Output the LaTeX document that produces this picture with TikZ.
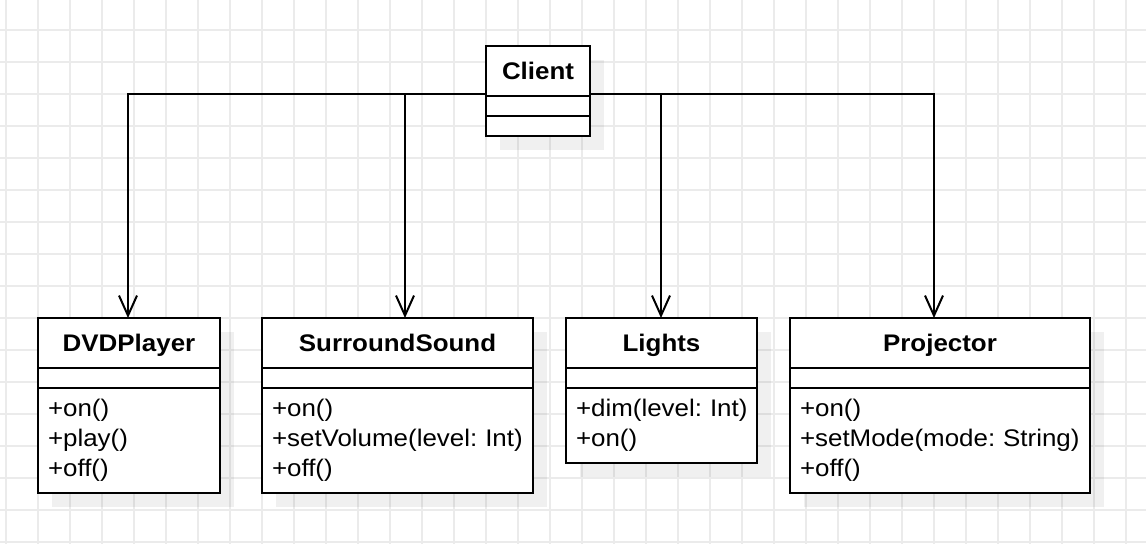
\documentclass[tikz,border=0pt]{standalone}
\usepackage{fontspec}
\setmainfont{Liberation Sans}[FakeStretch=1.08]
\usetikzlibrary{positioning,arrows.meta,backgrounds}

\begin{document}
\begin{tikzpicture}[x=1pt, y=-1pt,
  classbox/.style={draw, line width=2pt, fill=white, outer sep=0pt, inner sep=0pt},
  classhead/.style={classbox, minimum height=50pt, text height=17pt, text depth=0pt, font=\fontsize{24}{30}\selectfont\bfseries},
  classsep/.style={classbox, minimum height=20pt},
  classbody/.style={classbox, inner xsep=10pt, align=left, font=\fontsize{24}{30}\selectfont\frenchspacing},
  uses/.style={line width=2pt, -{Straight Barb[length=20pt, width=18pt]}},
  gridline/.style={line width=1.3pt, black!8},
  shadowfill/.style={fill=black, opacity=0.06}]

  \useasboundingbox (0,0) rectangle (1146,544);

  % Client
  \node[classhead, minimum width=104pt] (ClientH) at (538,71) {Client};
  \node[classsep, minimum width=104pt, below=0pt of ClientH] (ClientS) {};
  \node[classsep, minimum width=104pt, below=0pt of ClientS] (ClientB) {};

  % Headers
  \node[classhead, minimum width=182pt] (DVDH) at (129,343) {DVDPlayer};
  \node[classhead, minimum width=271pt, right=42pt of DVDH] (SSH) {SurroundSound};
  \node[classhead, minimum width=191pt, right=33pt of SSH] (LightsH) {Lights};
  \node[classhead, minimum width=300pt, right=33pt of LightsH] (ProjH) {Projector};

  % Empty compartments
  \node[classsep, minimum width=182pt, below=0pt of DVDH] (DVDS) {};
  \node[classsep, minimum width=271pt, below=0pt of SSH] (SSS) {};
  \node[classsep, minimum width=191pt, below=0pt of LightsH] (LightsS) {};
  \node[classsep, minimum width=300pt, below=0pt of ProjH] (ProjS) {};

  % Methods
  \node[classbody, text width=162pt, minimum height=105pt, below=0pt of DVDS] (DVDB)
    {+on()\\+play()\\+off()};
  \node[classbody, text width=251pt, minimum height=105pt, below=0pt of SSS] (SSB)
    {+on()\\\mbox{+setVolume(level: Int)}\\+off()};
  \node[classbody, text width=171pt, minimum height=75pt, below=0pt of LightsS] (LightsB)
    {\mbox{+dim(level: Int)}\\+on()};
  \node[classbody, text width=280pt, minimum height=105pt, below=0pt of ProjS] (ProjB)
    {+on()\\\mbox{+setMode(mode: String)}\\+off()};

  \begin{scope}[on background layer]
    % Grid
    \foreach \gx in {6,38,...,1142}
      \draw[gridline] (\gx,0) -- (\gx,544);
    \foreach \gy in {30,62,...,542}
      \draw[gridline] (0,\gy) -- (1146,\gy);

    % Shadows
    \fill[shadowfill] ([xshift=14pt,yshift=-14pt]ClientH.north west) rectangle ([xshift=14pt,yshift=-14pt]ClientB.south east);
    \fill[shadowfill] ([xshift=14pt,yshift=-14pt]DVDH.north west) rectangle ([xshift=14pt,yshift=-14pt]DVDB.south east);
    \fill[shadowfill] ([xshift=14pt,yshift=-14pt]SSH.north west) rectangle ([xshift=14pt,yshift=-14pt]SSB.south east);
    \fill[shadowfill] ([xshift=14pt,yshift=-14pt]LightsH.north west) rectangle ([xshift=14pt,yshift=-14pt]LightsB.south east);
    \fill[shadowfill] ([xshift=14pt,yshift=-14pt]ProjH.north west) rectangle ([xshift=14pt,yshift=-14pt]ProjB.south east);

    % Associations
    \draw[uses] ([yshift=2pt]ClientH.south west) -| ([xshift=-1pt]DVDH.north);
    \draw[uses] ([yshift=2pt]ClientH.south west) -| ([xshift=7.5pt]SSH.north);
    \draw[uses] ([yshift=2pt]ClientH.south east) -| ([xshift=-0.5pt]LightsH.north);
    \draw[uses] ([yshift=2pt]ClientH.south east) -| ([xshift=-6pt]ProjH.north);
  \end{scope}

\end{tikzpicture}
\end{document}
